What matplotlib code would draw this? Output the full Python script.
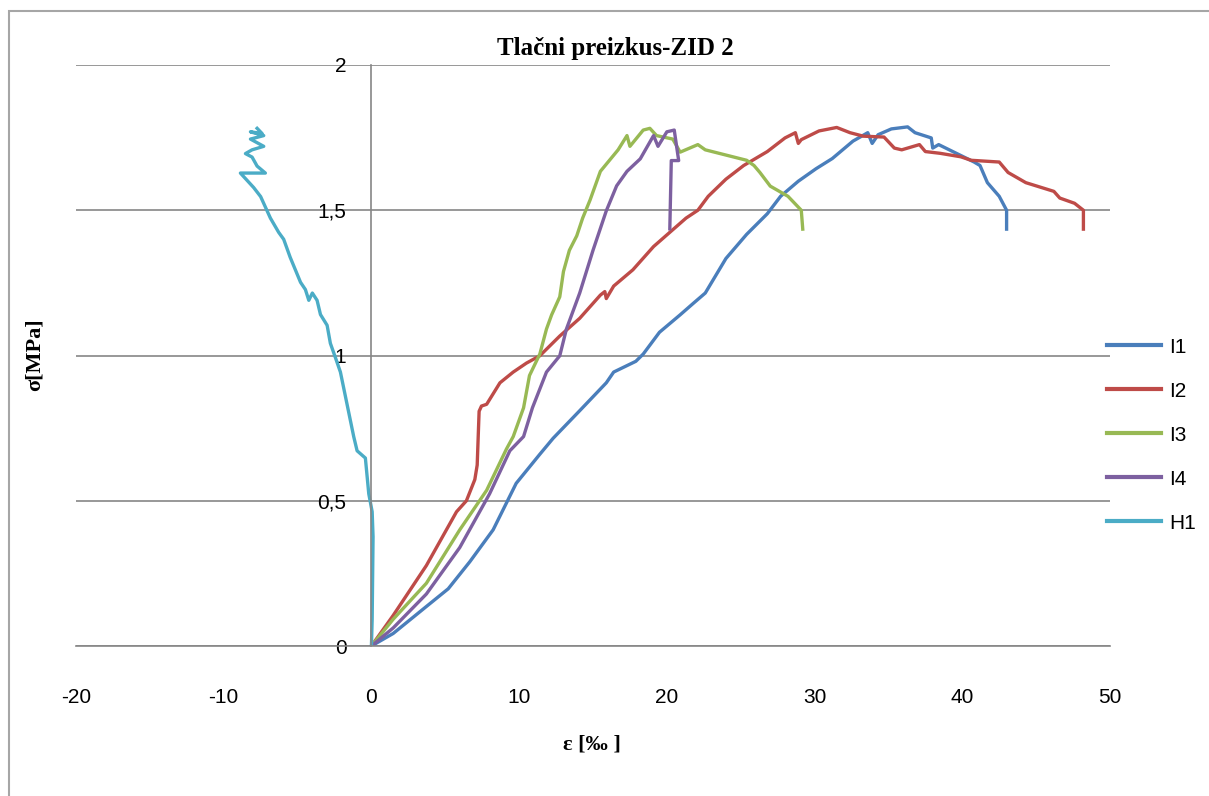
import matplotlib
matplotlib.use("Agg")
from matplotlib import pyplot as plt
from matplotlib.patches import Rectangle

plt.rcParams["axes.unicode_minus"] = False

# strain [permille] and stress [MPa] for each specimen
I1_eps = [0, 1.47, 3.72, 5.2, 6.66, 8.24, 9.8, 11.4, 12.3, 14.1, 15.9, 16.4, 17.9, 18.4, 19.5, 20.9,
          21.8, 22.6, 24.0, 25.4, 26.8, 27.7, 28.9, 30.1, 31.2, 32.6, 33.6, 33.9, 34.3, 35.2, 36.3,
          36.8, 37.9, 38.0, 38.4, 39.6, 40.8, 41.2, 41.7, 42.5, 43.0, 43.0]
I1_sig = [0, 0.043, 0.136, 0.197, 0.29, 0.40, 0.56, 0.66, 0.715, 0.81, 0.906, 0.943, 0.98, 1.005, 1.08, 1.14,
          1.18, 1.215, 1.334, 1.417, 1.488, 1.548, 1.60, 1.643, 1.678, 1.738, 1.767, 1.73, 1.76, 1.78, 1.787,
          1.767, 1.749, 1.714, 1.726, 1.696, 1.666, 1.654, 1.595, 1.548, 1.5, 1.435]

I2_eps = [0, 1.47, 3.72, 5.76, 6.43, 7.0, 7.16, 7.29, 7.45, 7.8, 8.7, 9.6, 10.5, 11.4, 12.75, 14.1,
          15.5, 15.8, 15.9, 16.4, 17.7, 19.1, 20.2, 21.3, 22.1, 22.8, 24.0, 25.2, 26.8, 28.0, 28.7,
          28.9, 29.1, 30.3, 31.5, 32.4, 33.3, 34.7, 35.4, 35.9, 37.1, 37.5, 38.5, 39.9, 40.6, 42.5,
          43.1, 44.3, 46.2, 46.6, 47.6, 48.2, 48.2]
I2_sig = [0, 0.105, 0.277, 0.462, 0.50, 0.573, 0.623, 0.808, 0.826, 0.832, 0.906, 0.943, 0.974, 0.999, 1.067, 1.128,
          1.208, 1.22, 1.196, 1.239, 1.295, 1.375, 1.424, 1.473, 1.5, 1.548, 1.607, 1.654, 1.702, 1.749, 1.767,
          1.73, 1.743, 1.773, 1.785, 1.767, 1.755, 1.752, 1.714, 1.708, 1.726, 1.702, 1.696, 1.684, 1.672, 1.666,
          1.63, 1.595, 1.565, 1.542, 1.524, 1.5, 1.435]

I3_eps = [0, 1.47, 3.72, 5.98, 7.8, 9.14, 9.6, 10.3, 10.7, 11.4, 11.85, 12.2, 12.75, 13.0, 13.4, 13.9,
          14.3, 14.8, 15.5, 16.1, 16.7, 17.3, 17.5, 18.4, 18.85, 19.3, 20.4, 20.9, 22.1, 22.6, 24.0,
          25.4, 25.9, 26.3, 27.0, 28.2, 29.1, 29.2]
I3_sig = [0, 0.092, 0.216, 0.40, 0.536, 0.678, 0.721, 0.82, 0.931, 1.005, 1.091, 1.14, 1.202, 1.289, 1.362, 1.412,
          1.473, 1.535, 1.634, 1.671, 1.708, 1.757, 1.72, 1.776, 1.782, 1.757, 1.745, 1.70, 1.726, 1.708, 1.69,
          1.672, 1.654, 1.63, 1.583, 1.548, 1.5, 1.435]

I4_eps = [0, 1.47, 3.72, 5.98, 8.0, 9.37, 10.3, 10.9, 11.85, 12.75, 13.2, 14.1, 15.0, 15.9, 16.6, 17.3,
          18.2, 19.1, 19.4, 20.0, 20.5, 20.8, 20.3, 20.2]
I4_sig = [0, 0.062, 0.179, 0.339, 0.524, 0.672, 0.721, 0.82, 0.943, 0.999, 1.091, 1.215, 1.362, 1.498, 1.584, 1.634,
          1.677, 1.757, 1.72, 1.77, 1.776, 1.671, 1.671, 1.436]

H1_eps = [0, 0.05, 0.11, 0.05, -0.18, -0.41, -0.97, -1.2, -1.65, -2.1, -2.44, -2.78, -3.0, -3.45, -3.68, -4.0,
          -4.24, -4.47, -4.8, -5.5, -5.94, -6.28, -6.84, -7.5, -7.97, -8.87, -7.18, -7.74, -8.08, -8.53, -8.08,
          -7.29, -8.19, -7.29, -8.19, -7.4, -7.74]
H1_sig = [0, 0.092, 0.376, 0.462, 0.524, 0.647, 0.672, 0.721, 0.832, 0.943, 0.993, 1.042, 1.104, 1.141, 1.19, 1.215,
          1.19, 1.227, 1.252, 1.338, 1.40, 1.424, 1.473, 1.547, 1.578, 1.628, 1.628, 1.652, 1.683, 1.695, 1.708,
          1.72, 1.745, 1.757, 1.77, 1.764, 1.782]

series = [("I1", I1_eps, I1_sig, "#4A7EBB"),
          ("I2", I2_eps, I2_sig, "#BE4B48"),
          ("I3", I3_eps, I3_sig, "#98B954"),
          ("I4", I4_eps, I4_sig, "#7D60A0"),
          ("H1", H1_eps, H1_sig, "#4BACC6")]

x_ticks = [-20, -10, 0, 10, 20, 30, 40, 50]
y_ticks = [0, 0.5, 1, 1.5, 2]
y_labels = ["0", "0,5", "1", "1,5", "2"]

sans = ["Liberation Sans Narrow", "Liberation Sans", "DejaVu Sans"]
serif = ["Liberation Serif", "DejaVu Serif"]

fig = plt.figure(figsize=(12.09, 7.96), dpi=100)
# chart frame
fig.patches.append(Rectangle((9 / 1209, -0.1), 1.2, 1.1 - 11 / 796, transform=fig.transFigure,
                             fill=False, edgecolor="#a6a6a6", linewidth=1.5))

ax = fig.add_axes([76 / 1209, 1 - 646 / 796, (1110 - 76) / 1209, (646 - 65) / 796])

for name, e, s, c in series:
    ax.plot(e, s, color=c, linewidth=2.4, label=name, solid_joinstyle="round")

ax.set_xlim(-20, 50)
ax.set_ylim(0, 2)
ax.set_xticks(x_ticks)
ax.set_yticks(y_ticks)
ax.set_yticklabels(y_labels)
ax.grid(axis="y", color="#868686", linewidth=1.2)
ax.set_axisbelow(True)

for side in ["top", "right"]:
    ax.spines[side].set_visible(False)
ax.spines["left"].set_position(("data", 0))
ax.spines["left"].set_color("#868686")
ax.spines["bottom"].set_color("#868686")
ax.spines["left"].set_linewidth(1.2)
ax.spines["bottom"].set_linewidth(1.2)
ax.tick_params(axis="both", length=0)
ax.tick_params(axis="x", pad=30)
ax.tick_params(axis="y", pad=18)
for lab in ax.get_xticklabels() + ax.get_yticklabels():
    lab.set_family(sans)
    lab.set_fontsize(15)

fig.text(615 / 1209, 1 - 48 / 796, "Tlačni preizkus-ZID 2", ha="center", va="center",
         family=serif, fontweight="bold", fontsize=18)
fig.text(592 / 1209, 1 - 745 / 796, "ε [‰ ]", ha="center", va="center",
         family=serif, fontweight="bold", fontsize=16)
fig.text(35 / 1209, 1 - 355 / 796, "σ[MPa]", ha="center", va="center", rotation=90,
         family=serif, fontweight="bold", fontsize=16)

leg = ax.legend(loc="center left", bbox_to_anchor=(1031 / 1034, 0.363), frameon=False,
                prop={"family": sans, "size": 15}, handlelength=2.6, labelspacing=1.2,
                handletextpad=0.4, borderpad=0, borderaxespad=0)
for h in leg.get_lines():
    h.set_linewidth(3)

fig.savefig("out.png", dpi=100)
